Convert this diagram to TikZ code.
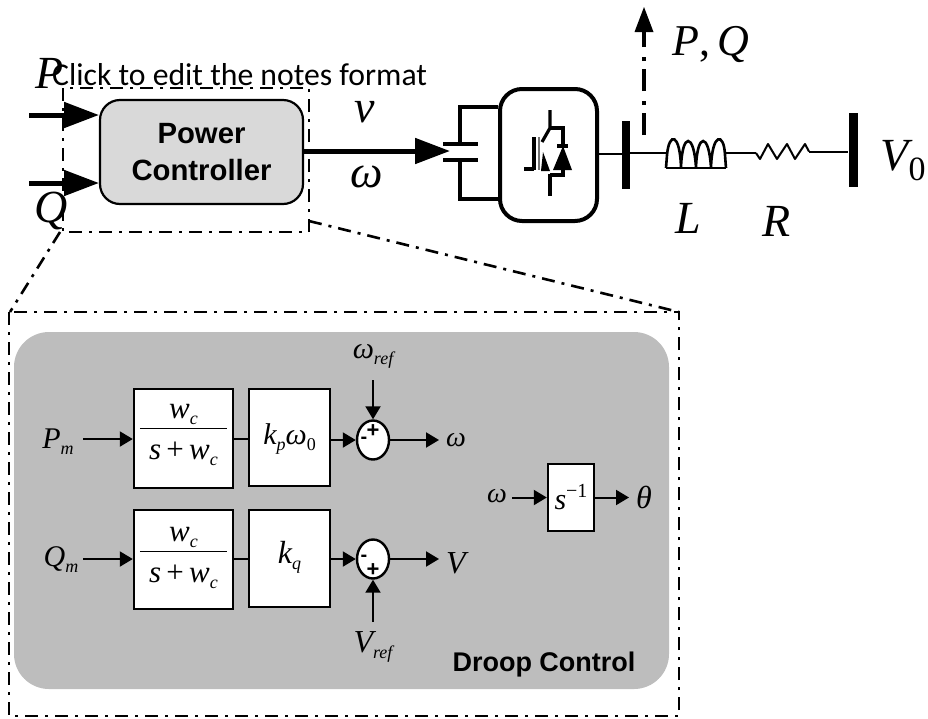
\RequirePackage{fix-cm}
\documentclass[tikz,border=0pt]{standalone}
\usepackage{fontspec}
\setsansfont{Liberation Sans}
\newfontfamily\notefont{Carlito}
\newfontfamily\tms{Liberation Serif}
\usetikzlibrary{arrows.meta,positioning,shapes.geometric}
\newcommand{\fs}[1]{\fontsize{#1}{#1}\selectfont}
\newcommand{\ti}[1]{{\tms\itshape #1}}
% small italic subscript
\newcommand{\subx}[1]{\raisebox{-6pt}{\fs{18}\tms\itshape #1}}
\newcommand{\wcfrac}{$\displaystyle\frac{\mbox{\fs{31}\ti{w}\subx{c}}\rule[-9pt]{0pt}{9pt}}{\rule{0pt}{30pt}\mbox{\fs{31}\ \ti{s}\,{\tms +}\,\ti{w}\subx{c}\ }}$}
\tikzset{
  x=1pt,y=-1pt,
  frameline/.style={line width=2.6pt,dash pattern=on 13pt off 7pt on 3pt off 7pt},
  bigarrow/.style={line width=5pt,-{Triangle[length=35pt,width=25pt,inset=0pt]}},
  smallarrow/.style={line width=2pt,-{Triangle[length=13pt,width=15pt,inset=0pt]}},
  plainline/.style={line width=2pt},
  block/.style={draw=black,fill=white,line width=2.4pt,inner sep=0pt,anchor=center},
  sumnode/.style={draw=black,fill=white,line width=2.4pt,ellipse,inner sep=0pt,minimum width=32pt,minimum height=39pt},
  mathlabel/.style={inner sep=0pt,text=black},
  heavy/.style={line width=3.2pt},
  wirebig/.style={line width=3.6pt},
}
\begin{document}
\begin{tikzpicture}
\useasboundingbox (0,0) rectangle (928,718);
% top section frame
\draw[frameline] (63,88) rectangle (309,232);
\node[draw=black,fill=black!15,line width=2.2pt,rounded corners=20pt,minimum width=203pt,minimum height=104pt,inner sep=0pt,align=center,font=\sffamily\bfseries\fs{29.3}] (pc) at (201.5,152) {Power\\[7pt]Controller};
\coordinate (pin) at (29,115);
\coordinate (qin) at (29,183);
\coordinate (pend) at (99,115);
\coordinate (qend) at (99,183);
\coordinate (vend) at (450,151);
\draw[bigarrow] (pin) -- (pend);
\draw[bigarrow] (qin) -- (qend);
\draw[bigarrow] (303,151) -- (vend);
\node[mathlabel,font=\fs{46}] (plab) at (50,73) {\ti{P}};
\node[mathlabel,font=\fs{46}] (qlab) at (51,211) {\ti{Q}};
\node[mathlabel,font=\fs{46}] (vlab) at (365,112) {\ti{v}};
\node[mathlabel,font=\fs{46}] (wlab) at (367,177) {\ti{ω}};
\node[mathlabel,anchor=base west,font=\notefont\fs{31.7}] (note) at (52,85) {Click to edit the notes format};
% capacitor and converter
\node[draw=black,line width=4pt,rounded corners=22pt,minimum width=97pt,minimum height=132pt,inner sep=0pt] (conv) at (548.5,155) {};
\coordinate (capT) at (460,144);
\coordinate (capB) at (460,160);
\draw[wirebig] (443,144) -- (478,144) (443,160) -- (478,160);
\draw[wirebig] (capT) -- (460,107) -- (conv.west |- 0,107);
\draw[wirebig] (capB) -- (460,199) -- (conv.west |- 0,199);
% igbt
\draw[heavy] (550,110) -- (550,128) -- (542,142);
\draw[heavy] (550,128) -- (563,128) -- (563,146);
\draw[heavy] (557,146) -- (568,146);
\draw[line width=4.5pt] (534,137) -- (534,170);
\draw[line width=2pt,black!55] (539,137) -- (539,170);
\draw[heavy] (524,169) -- (534,169);
\draw[heavy] (550,174) -- (550,196);
\draw[heavy] (550,175) -- (563,175) -- (563,168);
\fill (543,152) -- (550,171) -- (541,171) -- cycle;
\fill (563,146) -- (572,170) -- (553,170) -- cycle;
% line
\node[fill=black,minimum width=8pt,minimum height=68pt,inner sep=0pt] (bus1) at (626,155) {};
\node[fill=black,minimum width=9pt,minimum height=74pt,inner sep=0pt] (bus2) at (853,150) {};
\draw[line width=2pt] (conv.east |- 0,154) -- (bus1.west |- 0,154);
\draw[line width=2pt] (bus1.east |- 0,153) -- (666,153);
\draw[line width=2pt] (725,153) -- (756,153);
\draw[line width=2pt] (809,151.5) -- (bus2.west |- 0,151.5);
\draw[line width=2.6pt] (666,168) -- (726,168);
\draw[line width=2.6pt] (666,168) -- (667,155) .. controls (669,132) and (680,132) .. (681,168)
  (681,168) .. controls (682,132) and (694,132) .. (696,168)
  (696,168) .. controls (697,132) and (709,132) .. (711,168)
  (711,168) .. controls (712,132) and (724,132) .. (725,155) -- (726,168);
\draw[line width=2pt,line join=round] (756,153) -- (760,159) -- (768,144) -- (777,159) -- (787,144) -- (795,159) -- (805,144) -- (809,151.5);
\coordinate (pqbase) at (644,135);
\coordinate (pqtip) at (644,7);
\draw[line width=4pt,dash pattern=on 22pt off 8pt on 4pt off 10pt] (pqbase) -- (644,30);
\fill (pqtip) -- (653.5,32) -- (634.5,32) -- cycle;
\node[mathlabel,font=\fs{44}] (pq) at (711,44) {\ti{P}{\tms,}\hspace{7pt}\ti{Q}};
\node[mathlabel,font=\fs{46}] (ll) at (688,218) {\ti{L}};
\node[mathlabel,font=\fs{46}] (rl) at (777,221) {\ti{R}};
\node[mathlabel,font=\fs{46}] (v0) at (903,161) {\ti{V}\raisebox{-10pt}{\fs{34}\tms 0}};
% zoom lines
\coordinate (zl1) at (60,232);
\coordinate (zl2) at (10,312);
\coordinate (zr1) at (309,221);
\coordinate (zr2) at (679,312);
\draw[frameline] (zl1) -- (zl2);
\draw[frameline] (zr1) -- (zr2);
\draw[frameline] (9,312) rectangle (679,716);
% droop panel
\node[fill=black!26,rounded corners=35pt,minimum width=655pt,minimum height=357pt,inner sep=0pt] (panel) at (341.5,510.5) {};
\node[block,minimum width=99pt,minimum height=99pt] (f1) at (183.5,438.5) {};
\node[block,minimum width=81pt,minimum height=97pt] (k1) at (289.5,437.5) {};
\node[block,minimum width=99pt,minimum height=99pt] (f2) at (183.5,559.5) {};
\node[block,minimum width=81pt,minimum height=97pt] (k2) at (289.5,558.5) {};
\node[sumnode] (s1) at (373,440) {};
\node[sumnode] (s2) at (373,559) {};
\node[block,minimum width=46pt,minimum height=67pt] (integ) at (571,497.5) {};
\node[mathlabel] (t1) at (183.5,435) {\wcfrac};
\node[mathlabel] (t2) at (183.5,558) {\wcfrac};
\node[mathlabel,font=\fs{30}] (t3) at (289.5,439) {\ti{k}\subx{p}\ti{ω}\raisebox{-6pt}{\fs{18}\tms 0}};
\node[mathlabel,font=\fs{32}] (t4) at (289.5,557) {\ti{k}\subx{q}};
\node[mathlabel,font=\fs{30}] (t5) at (571,497) {\ti{s}\raisebox{12pt}{\fs{20}\tms −1}};
\node[mathlabel,font=\fs{30}] (pm) at (58,442) {\ti{P}\subx{m}};
\node[mathlabel,font=\fs{30}] (qm) at (61,560) {\ti{Q}\subx{m}};
\node[mathlabel,font=\fs{30}] (wr) at (373,356) {\ti{ω}\subx{ref}};
\node[mathlabel,font=\fs{32}] (vr) at (373,647) {\ti{V}\subx{ref}};
\node[mathlabel,font=\fs{28}] (w1) at (456,440) {\ti{ω}};
\node[mathlabel,font=\fs{32}] (vo) at (456,563) {\ti{V}};
\node[mathlabel,font=\fs{28}] (w2) at (497,496) {\ti{ω}};
\node[mathlabel,font=\fs{32}] (th) at (644,497) {\ti{θ}};
\node[mathlabel,font=\sffamily\bfseries\fs{27}] (dc) at (544,665) {Droop Control};
\coordinate (pmstart) at (83,439);
\coordinate (qmstart) at (83,559);
\draw[smallarrow] (pmstart) -- (f1.west |- pmstart);
\draw[smallarrow] (qmstart) -- (f2.west |- qmstart);
\draw[plainline] (f1.east |- pmstart) -- (k1.west |- pmstart);
\draw[plainline] (f2.east |- qmstart) -- (k2.west |- qmstart);
\draw[smallarrow] (k1.east |- s1.west) -- (s1.west);
\draw[smallarrow] (k2.east |- s2.west) -- (s2.west);
\coordinate (s1out) at (439,440);
\coordinate (s2out) at (439,559);
\draw[smallarrow] (s1.east) -- (s1out);
\draw[smallarrow] (s2.east) -- (s2out);
\coordinate (wrstart) at (373,380);
\coordinate (vrstart) at (373,622);
\draw[smallarrow] (wrstart) -- (s1.north);
\draw[smallarrow] (vrstart) -- (s2.south);
\coordinate (iin) at (512,497.5);
\coordinate (iout) at (629,497.5);
\draw[smallarrow] (iin) -- (integ.west);
\draw[smallarrow] (integ.east) -- (iout);
\node[mathlabel,font=\sffamily\bfseries\fs{22}] (plus1) at (373,431) {+};
\node[mathlabel,font=\sffamily\bfseries\fs{20}] (minus1) at (364,440) {-};
\node[mathlabel,font=\sffamily\bfseries\fs{22}] (plus2) at (373,570) {+};
\node[mathlabel,font=\sffamily\bfseries\fs{20}] (minus2) at (364,558) {-};
\end{tikzpicture}
\end{document}
